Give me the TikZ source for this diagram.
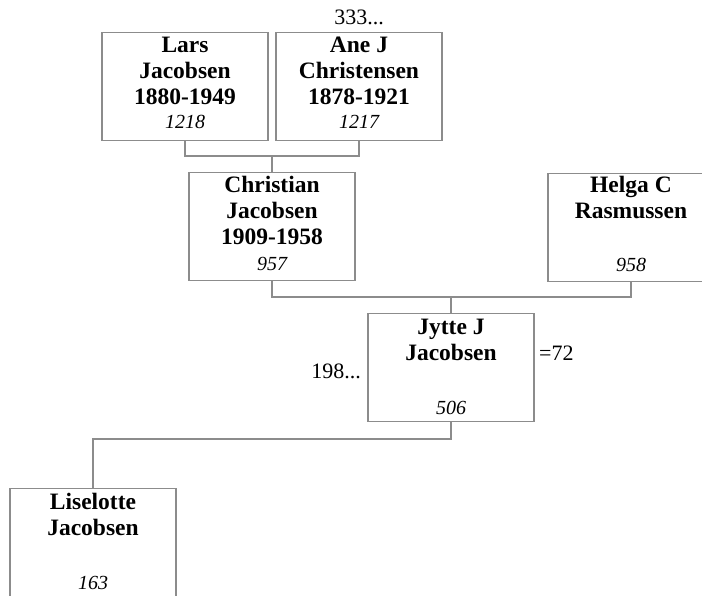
\documentclass[tikz,border=0pt]{standalone}
\usepackage{fontspec}
\setmainfont{Liberation Serif}
\usetikzlibrary{calc}
\definecolor{linegray}{RGB}{140,140,140}
\begin{document}
\begin{tikzpicture}[x=1pt,y=-1pt,
  pbox/.style={draw=linegray, line width=1.3pt, minimum width=166pt, minimum height=108pt, inner sep=0pt, anchor=north},
  nm/.style={font=\fontsize{23.5}{26}\selectfont\bfseries, align=center, anchor=north, inner sep=0pt},
  num/.style={font=\fontsize{20}{24}\selectfont\itshape, anchor=base, inner sep=0pt},
  lbl/.style={font=\fontsize{22}{26}\selectfont, inner sep=0pt},
  conn/.style={draw=linegray, line width=1.3pt}]
\useasboundingbox (0,0) rectangle (702,596);
% boxes
\node[pbox] (lars) at (185,32) {};
\node[pbox] (ane) at (359,32) {};
\node[pbox] (christian) at (272,172) {};
\node[pbox] (helga) at (631,173) {};
\node[pbox] (jytte) at (451,313) {};
\node[pbox, minimum height=140pt] (lise) at (93,488) {};
% names
\node[nm] (larsN) at ($(lars.north)+(0,3)$) {\rule{0pt}{17pt}Lars\\Jacobsen\\1880-1949};
\node[nm] (aneN) at ($(ane.north)+(0,3)$) {\rule{0pt}{17pt}Ane J\\Christensen\\1878-1921};
\node[nm] (christianN) at ($(christian.north)+(0,3)$) {\rule{0pt}{17pt}Christian\\Jacobsen\\1909-1958};
\node[nm] (helgaN) at ($(helga.north)+(0,2)$) {\rule{0pt}{17pt}Helga C\\Rasmussen};
\node[nm] (jytteN) at ($(jytte.north)+(0,4)$) {\rule{0pt}{17pt}Jytte J\\Jacobsen};
\node[nm] (liseN) at ($(lise.north)+(0,4)$) {\rule{0pt}{17pt}Liselotte\\Jacobsen};
% numbers
\node[num] (larsI) at ($(lars.north)+(0,97)$) {1218};
\node[num] (aneI) at ($(ane.north)+(0,97)$) {1217};
\node[num] (christianI) at ($(christian.north)+(0,99)$) {957};
\node[num] (helgaI) at ($(helga.north)+(0,99)$) {958};
\node[num] (jytteI) at ($(jytte.north)+(0,101)$) {506};
\node[num] (liseI) at ($(lise.north)+(0,101)$) {163};
% extra labels
\node[lbl, anchor=base] (l333) at (359,25) {333...};
\node[lbl, anchor=base east] (l198) at (361,378) {198...};
\node[lbl, anchor=base west] (l72) at (539,360) {=72};
% connectors
\coordinate (m1) at (272,156);
\coordinate (m2) at (451,297);
\coordinate (m3) at (451,439);
\draw[conn] (lars.south) |- (m1) -| (ane.south);
\draw[conn] (m1) -- (christian.north);
\draw[conn] (christian.south) |- (m2) -| (helga.south);
\draw[conn] (m2) -- (jytte.north);
\draw[conn] (jytte.south) -- (m3) -| (lise.north);
\end{tikzpicture}
\end{document}
